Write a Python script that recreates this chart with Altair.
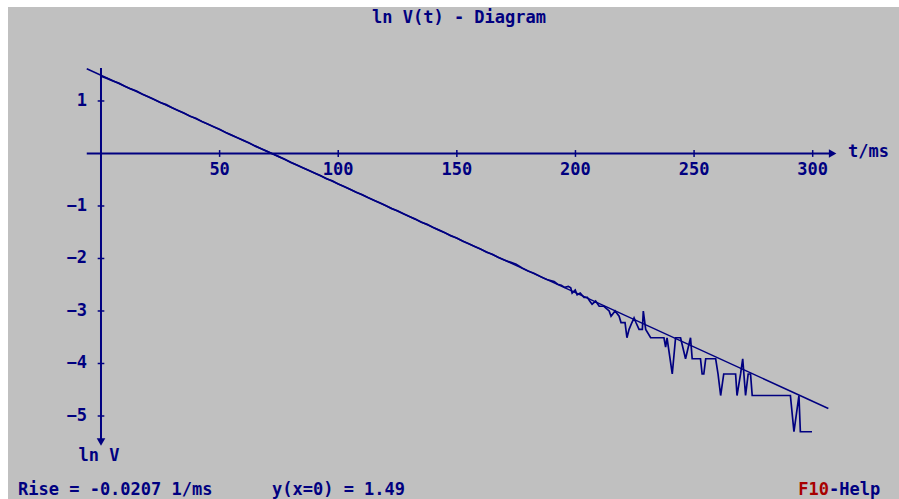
import altair as alt
import pandas as pd

# ---- measured decay curve: time in ms, natural log of voltage ----
t_ms = [
    0, 2.5, 5, 7.5, 10, 12.5, 15, 17.5, 20, 22.5, 25, 27.5, 30, 32.5, 35, 37.5,
    40, 42.5, 45, 47.5, 50, 52.5, 55, 57.5, 60, 62.5, 65, 67.5, 70, 72.5, 75,
    77.5, 80, 82.5, 85, 87.5, 90, 92.5, 95, 97.5, 100, 102.5, 105, 107.5, 110,
    112.5, 115, 117.5, 120, 122.5, 125, 127.5, 130, 132.5, 135, 137.5, 140,
    142.5, 145, 147.5, 150, 152.5, 155, 157.5, 160, 162.5, 165, 167.5, 170,
    172.5, 175, 176.5, 177.5, 180, 182.5, 185, 186.5, 188, 189.5, 191, 192.5,
    194, 195.5, 197, 198, 198.6, 199.9, 200.7, 202, 203.6, 205, 206, 207,
    208.5, 210, 212, 214.2, 215, 216.7, 218.4, 219.2, 220.9, 221.7, 222.6,
    223.8, 224.7, 225.5, 226.8, 228.2, 228.6, 229.6, 231.7, 237.3, 238.0,
    238.6, 240.8, 242.2, 244.3, 246.4, 248.5, 249.2, 252.7, 253.4, 254.1,
    254.9, 259.1, 260.1, 261.2, 262.5, 267.5, 268.1, 269.6, 270.5, 271.7,
    272.8, 273.8, 274.5, 290.6, 292.1, 294.2, 294.8, 299.7,
]
ln_v = [
    1.47, 1.43, 1.38, 1.34, 1.28, 1.23, 1.19, 1.13, 1.08, 1.03, 0.97, 0.93,
    0.87, 0.82, 0.77, 0.71, 0.67, 0.61, 0.56, 0.51, 0.46, 0.40, 0.35, 0.30,
    0.25, 0.20, 0.14, 0.09, 0.04, -0.01, -0.06, -0.11, -0.17, -0.22, -0.27,
    -0.32, -0.37, -0.42, -0.48, -0.52, -0.58, -0.63, -0.68, -0.74, -0.78,
    -0.84, -0.89, -0.94, -0.99, -1.05, -1.09, -1.15, -1.20, -1.25, -1.31,
    -1.35, -1.41, -1.46, -1.51, -1.57, -1.61, -1.67, -1.72, -1.77, -1.82,
    -1.88, -1.92, -1.98, -2.03, -2.07, -2.11, -2.15, -2.18, -2.24, -2.28,
    -2.34, -2.37, -2.40, -2.42, -2.44, -2.49, -2.51, -2.55, -2.53, -2.56,
    -2.66, -2.60, -2.69, -2.66, -2.74, -2.74, -2.81, -2.87, -2.81, -2.91,
    -2.91, -3.00, -3.10, -3.00, -3.10, -3.22, -3.22, -3.51, -3.35, -3.22,
    -3.13, -3.22, -3.35, -3.35, -3.00, -3.35, -3.51, -3.51, -3.69, -3.51,
    -4.20, -3.51, -3.51, -3.91, -3.51, -3.91, -3.91, -4.20, -4.20, -3.91,
    -3.91, -4.20, -4.61, -4.20, -4.20, -4.61, -4.20, -3.91, -4.61, -4.20,
    -4.20, -4.61, -4.61, -5.30, -4.61, -5.30, -5.30,
]

# ---- regression line parameters (as reported in the status line) ----
rise = -0.0207
y_at_zero = 1.49
fit_t = [-6.0, 306.6]

# ---- axis ticks ----
x_ticks = [50, 100, 150, 200, 250, 300]
y_ticks = [1, -1, -2, -3, -4, -5]

NAVY = "#000080"
RED = "#a80000"
BG = "#c0c0c0"
FONT = "DejaVu Sans Mono"
FS = 17

W, H = 891, 492
xs = alt.Scale(domain=[-39.20, 336.38], nice=False, zero=False)
ys = alt.Scale(domain=[-6.581, 2.790], nice=False, zero=False)

meas = pd.DataFrame({"t": t_ms, "v": ln_v})
fit = pd.DataFrame({"t": fit_t, "v": [y_at_zero + rise * t for t in fit_t]})

X = lambda f="t": alt.X(f"{f}:Q", scale=xs, axis=None)
Y = lambda f="v": alt.Y(f"{f}:Q", scale=ys, axis=None)

# coordinate axes through the origin
axes_df = pd.DataFrame({"t": [-6.0, 0.0], "t2": [307.3, 0.0],
                        "v": [0.0, 1.628], "v2": [0.0, -5.457]})
axes = alt.Chart(axes_df).mark_rule(color=NAVY, strokeWidth=2).encode(
    x=X(), x2="t2:Q", y=Y(), y2="v2:Q")

arrow_df = pd.DataFrame({"t": [308.4, 0.0], "v": [0.0, -5.495],
                         "shape": ["triangle-right", "triangle-down"]})
arrows = alt.Chart(arrow_df).mark_point(filled=True, size=75, color=NAVY,
                                        opacity=1).encode(
    x=X(), y=Y(), shape=alt.Shape("shape:N", scale=None))

xt_df = pd.DataFrame({"t": x_ticks, "t2": x_ticks,
                      "v": [0.065] * len(x_ticks), "v2": [-0.065] * len(x_ticks)})
xt = alt.Chart(xt_df).mark_rule(color=NAVY, strokeWidth=1.5).encode(
    x=X(), x2="t2:Q", y=Y(), y2="v2:Q")

yt_df = pd.DataFrame({"t": [-1.4] * len(y_ticks), "t2": [1.4] * len(y_ticks),
                      "v": y_ticks, "v2": y_ticks})
yt = alt.Chart(yt_df).mark_rule(color=NAVY, strokeWidth=1.5).encode(
    x=X(), x2="t2:Q", y=Y(), y2="v2:Q")

txt = dict(font=FONT, fontSize=FS, fontWeight="bold", color=NAVY)


def num(v):
    return str(v).replace("-", "\u2212")


xl_df = pd.DataFrame({"t": x_ticks, "v": [0.0] * len(x_ticks),
                      "lab": [num(v) for v in x_ticks]})
xl = alt.Chart(xl_df).mark_text(align="center", baseline="middle", dy=16.5,
                                **txt).encode(x=X(), y=Y(), text="lab:N")

yl_df = pd.DataFrame({"t": [0.0] * len(y_ticks), "v": y_ticks,
                      "lab": [num(v) for v in y_ticks]})
yl = alt.Chart(yl_df).mark_text(align="right", baseline="middle", dx=-14,
                                **txt).encode(x=X(), y=Y(), text="lab:N")

xname_df = pd.DataFrame({"t": [314.9], "v": [0.03], "lab": ["t/ms"]})
yname_df = pd.DataFrame({"t": [-0.84], "v": [-5.762], "lab": ["ln V"]})
xname = alt.Chart(xname_df).mark_text(align="left", baseline="middle",
                                      **txt).encode(x=X(), y=Y(), text="lab:N")
yname = alt.Chart(yname_df).mark_text(align="center", baseline="middle",
                                      **txt).encode(x=X(), y=Y(), text="lab:N")

fit_line = alt.Chart(fit).mark_line(color=NAVY, strokeWidth=1.5).encode(x=X(), y=Y())
data_line = alt.Chart(meas).mark_line(color=NAVY, strokeWidth=1.7).encode(
    x=X(), y=Y(), order="t:Q")

one = pd.DataFrame({"k": [0]})


def label(text, px, py, align="left", color=NAVY):
    return alt.Chart(one).mark_text(align=align, baseline="middle", font=FONT,
                                    fontSize=FS, fontWeight="bold", color=color).encode(
        x=alt.value(px), y=alt.value(py), text=alt.value(text))


title = label("ln V(t) - Diagram", 451, 10.5, align="center")
status_rise = label(f"Rise = {rise:.4f} 1/ms", 10, 483)
status_y0 = label(f"y(x=0) = {y_at_zero:.2f}", 264, 483)
help_key = label("F10", 821, 483, align="right", color=RED)
help_txt = label("-Help", 821, 483)

chart = alt.layer(
    axes, arrows, xt, yt, fit_line, data_line, xl, yl, xname, yname,
    title, status_rise, status_y0, help_key, help_txt,
).properties(
    width=W, height=H, autosize="none", background="white",
    padding={"left": 8, "top": 7, "right": 0, "bottom": 0},
).configure_view(fill=BG, stroke=None)

chart.save("out.html", embed_options={"renderer": "svg", "actions": False})
